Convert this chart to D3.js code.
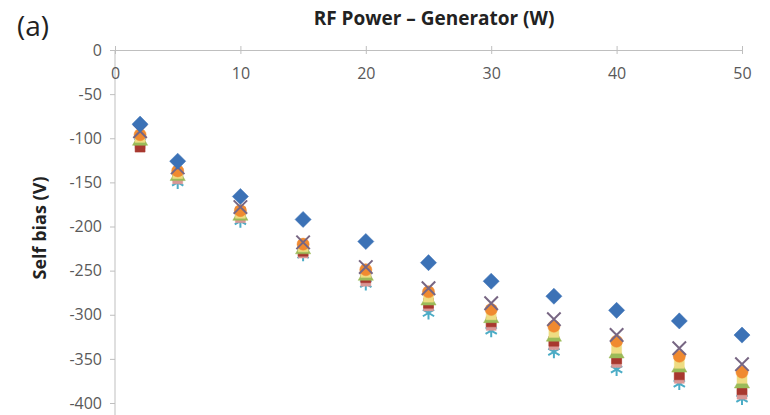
<!DOCTYPE html>
<html>
<head>
<meta charset="utf-8">
<script src="https://cdn.jsdelivr.net/npm/d3@7"></script>
<style>
  body { margin: 0; background: #fff; }
  text { font-family: "Open Sans", "Liberation Sans", sans-serif; }
</style>
</head>
<body>
<svg id="chart" width="770" height="415"></svg>
<script>
// RF power (W)
const power = [2, 5, 10, 15, 20, 25, 30, 35, 40, 45, 50];

// self bias (V), one array per series
const sDiamond  = [-84, -126, -166, -192, -217, -241, -262, -279, -295, -307, -323];
const sCross    = [-92, -133, -178, -218, -246, -270, -287, -305, -323, -338, -356];
const sCircle   = [-96, -137, -182, -220, -249, -274, -294, -313, -330, -347, -365];
const sYellow   = [-99, -140, -185, -223, -252, -280, -300, -320, -338, -355, -372];
const sTriangle = [-103, -143, -188, -226, -256, -284, -304, -325, -344, -360, -378];
const sSquare   = [-110, -140, -184, -228, -258, -287, -308, -330, -350, -368, -385];
const sPink     = [-106, -146, -190, -230, -262, -290, -312, -334, -354, -372, -390];
const sStar     = [-104, -150, -194, -232, -265, -298, -318, -342, -362, -378, -395];

const xTicks = [0, 10, 20, 30, 40, 50];
const yTicks = [0, -50, -100, -150, -200, -250, -300, -350, -400];

// drawing order: bottom-most first so the diamond stays on top
const series = [
  {values: sStar, shape: 'star', color: '#4bacc6'},
  {values: sPink, shape: 'square', color: '#d99795'},
  {values: sSquare, shape: 'square', color: '#a8382f'},
  {values: sTriangle, shape: 'triangle', color: '#9bbb59'},
  {values: sYellow, shape: 'square', color: '#eedc82'},
  {values: sCircle, shape: 'circle', color: '#f08a30'},
  {values: sCross, shape: 'cross', color: '#776683'},
  {values: sDiamond, shape: 'diamond', color: '#3c72b6'}
];

const svg = d3.select('#chart');

const x = d3.scaleLinear().domain([0, 50]).range([115, 742]);
const y = d3.scaleLinear().domain([0, -400]).range([50, 403]);

const axisColor = '#bfbfbf';
const labelColor = '#595959';

// y axis (plain hyphen for the minus sign, like the original)
const yAxis = svg.append('g')
  .attr('transform', `translate(${x(0)},0)`)
  .call(d3.axisLeft(y).tickValues(yTicks).tickFormat(d => String(d)).tickSize(5).tickPadding(8));
yAxis.select('.domain').remove();
yAxis.selectAll('line').attr('stroke', axisColor);
yAxis.selectAll('text').attr('fill', labelColor).style('font-size', '16px');
svg.append('line')
  .attr('x1', x(0)).attr('x2', x(0))
  .attr('y1', y(0)).attr('y2', 415)
  .attr('stroke', axisColor);

// x axis along the top (y = 0)
const xAxis = svg.append('g')
  .attr('transform', `translate(0,${y(0)})`)
  .call(d3.axisBottom(x).tickValues(xTicks).tickSize(4).tickPadding(14));
xAxis.select('.domain').attr('stroke', axisColor);
xAxis.selectAll('line').attr('stroke', axisColor).attr('y1', -4);
xAxis.selectAll('text').attr('fill', labelColor).style('font-size', '16px');

// markers
const diamond = {
  draw(ctx, size) {
    const r = Math.sqrt(size / 2);
    ctx.moveTo(0, -r);
    ctx.lineTo(r, 0);
    ctx.lineTo(0, r);
    ctx.lineTo(-r, 0);
    ctx.closePath();
  }
};
const sym = {
  diamond: d3.symbol().type(diamond).size(130),
  square: d3.symbol().type(d3.symbolSquare).size(100),
  triangle: d3.symbol().type(d3.symbolTriangle).size(100),
  circle: d3.symbol().type(d3.symbolCircle).size(115),
  cross: d3.symbol().type(d3.symbolX).size(120),
  star: d3.symbol().type(d3.symbolAsterisk).size(120)
};

series.forEach(s => {
  const stroked = s.shape === 'cross' || s.shape === 'star';
  svg.append('g')
    .selectAll('path')
    .data(s.values)
    .join('path')
    .attr('transform', (d, i) => `translate(${x(power[i])},${y(d)})`)
    .attr('d', sym[s.shape])
    .attr('fill', stroked ? 'none' : s.color)
    .attr('stroke', s.color)
    .attr('stroke-width', stroked ? 2 : 0.5);
});

// titles
svg.append('text')
  .attr('x', 434).attr('y', 25)
  .attr('text-anchor', 'middle')
  .style('font-size', '19px').style('font-weight', 'bold')
  .attr('fill', '#222')
  .text('RF Power – Generator (W)');

svg.append('text')
  .attr('transform', 'translate(46,228) rotate(-90)')
  .attr('text-anchor', 'middle')
  .style('font-size', '18px').style('font-weight', 'bold')
  .attr('fill', '#222')
  .text('Self bias (V)');

svg.append('text')
  .attr('x', 17).attr('y', 36)
  .style('font-size', '28px')
  .attr('fill', '#222')
  .text('(a)');
</script>
</body>
</html>
